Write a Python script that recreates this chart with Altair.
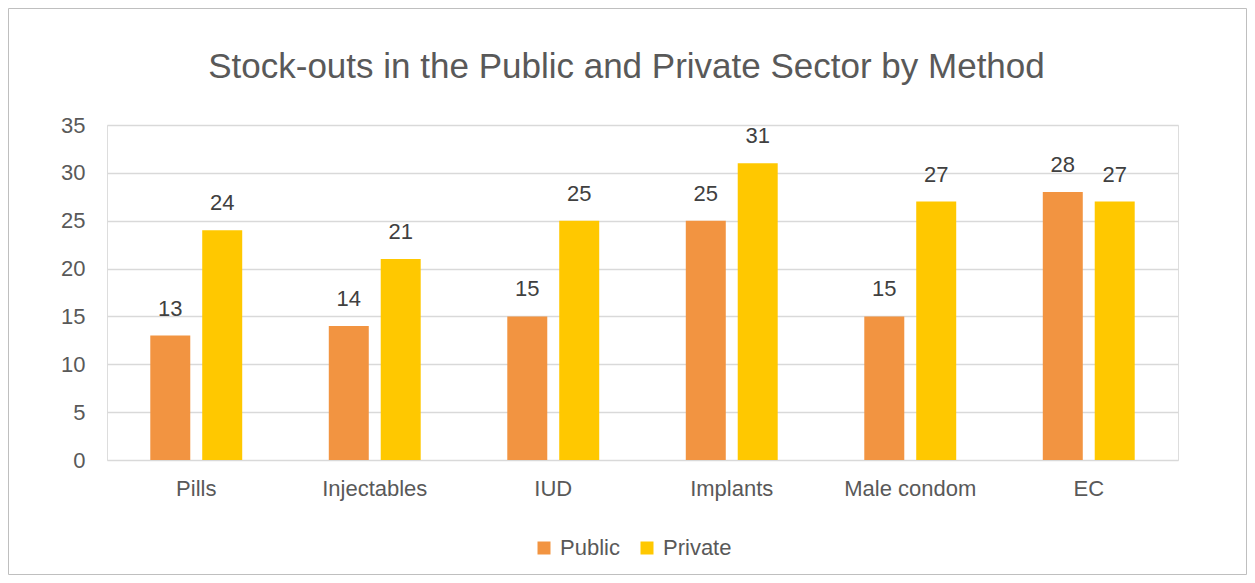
import altair as alt
import pandas as pd

methods = ["Pills", "Injectables", "IUD", "Implants", "Male condom", "EC"]
sectors = ["Public", "Private"]
public_vals = [13, 14, 15, 25, 15, 28]
private_vals = [24, 21, 25, 31, 27, 27]
y_ticks = [0, 5, 10, 15, 20, 25, 30, 35]
colors = ["#F29441", "#FFC800"]
title_text = "Stock-outs in the Public and Private Sector by Method"

rows = []
for m, pu, pr in zip(methods, public_vals, private_vals):
    rows.append({"Method": m, "Sector": "Public", "Value": pu})
    rows.append({"Method": m, "Sector": "Private", "Value": pr})
df = pd.DataFrame(rows)

FONT = "Liberation Sans"
FS = 22
W, H = 1071, 335
PAD = {"left": 99, "top": 117, "right": 69, "bottom": 115}

base = alt.Chart(df).encode(
    x=alt.X("Method:N", sort=methods, title=None,
            scale=alt.Scale(paddingInner=0.485, paddingOuter=0.2425),
            axis=alt.Axis(labelAngle=0, labelFontSize=FS, labelColor="#595959",
                          labelFont=FONT, ticks=False, domain=False,
                          labelPadding=18, grid=False)),
    xOffset=alt.XOffset("Sector:N", sort=sectors,
                        scale=alt.Scale(paddingInner=0.23, paddingOuter=0)),
)

bars = base.mark_bar().encode(
    y=alt.Y("Value:Q", title=None,
            scale=alt.Scale(domain=[0, 35], nice=False),
            axis=alt.Axis(values=y_ticks, labelFontSize=FS, labelColor="#595959",
                          labelFont=FONT, ticks=False, domain=False,
                          labelPadding=22, gridColor="#D9D9D9", gridWidth=1.3)),
    color=alt.Color("Sector:N", sort=sectors,
                    scale=alt.Scale(domain=sectors, range=colors),
                    legend=alt.Legend(title=None, orient="none", direction="horizontal",
                                      legendX=426, legendY=412, padding=0,
                                      symbolType="square", symbolSize=169,
                                      symbolStrokeWidth=0, labelFontSize=FS,
                                      labelColor="#595959", labelFont=FONT,
                                      labelOffset=5, columnPadding=16)),
)

labels = base.mark_text(fontSize=FS, font=FONT, color="#404040",
                        baseline="alphabetic", dy=-20).encode(
    y=alt.Y("Value:Q"),
    text=alt.Text("Value:Q"),
)

title = alt.Chart(pd.DataFrame({"t": [title_text]})).mark_text(
    fontSize=35, font=FONT, color="#595959", align="center", baseline="alphabetic"
).encode(
    x=alt.value(519.5), y=alt.value(-47), text="t:N",
)

border = alt.Chart(pd.DataFrame({"b": [0]})).mark_rect(
    filled=False, stroke="#BFBFBF", strokeWidth=1
).encode(
    x=alt.value(-98.5), x2=alt.value(W + 68.5),
    y=alt.value(-116.5), y2=alt.value(H + 114.5),
)

chart = alt.layer(border, bars, labels, title).properties(
    width=W, height=H,
    autosize=alt.AutoSizeParams(type="none"),
    padding=PAD,
).configure_view(stroke=None).configure(background="white")

chart.save("out.html", embed_options={"renderer": "svg", "actions": False})
